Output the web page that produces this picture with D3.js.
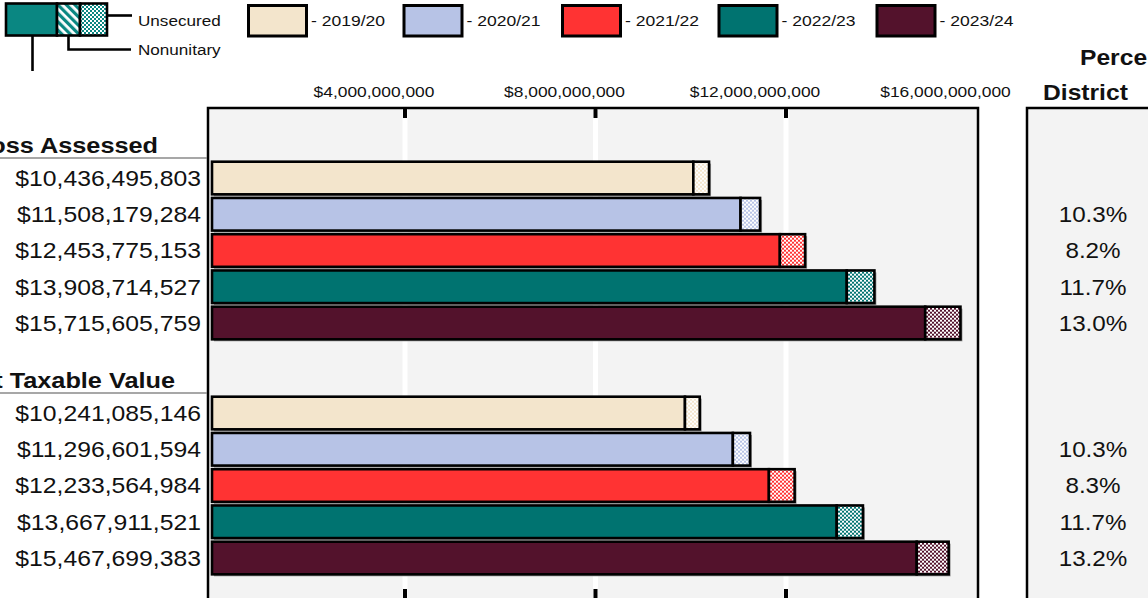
<!DOCTYPE html>
<html>
<head>
<meta charset="utf-8">
<script src="https://cdn.jsdelivr.net/npm/d3@7"></script>
<style>
  body { margin: 0; background: #fff; }
  svg { display: block; }
</style>
</head>
<body>
<svg id="chart" width="1148" height="598"></svg>
<script>
// Fiscal years and their fill colours
const years = ["2019/20", "2020/21", "2021/22", "2022/23", "2023/24"];
const colors = ["#f3e5cc", "#b7c3e6", "#ff3333", "#007370", "#53122c"];

// Gross assessed value (total) and the unsecured portion
const grossTotal = [10436495803, 11508179284, 12453775153, 13908714527, 15715605759];
const grossUnsecured = [330000000, 410000000, 530000000, 580000000, 740000000];

// Net taxable value (total) and the unsecured portion
const netTotal = [10241085146, 11296601594, 12233564984, 13667911521, 15467699383];
const netUnsecured = [310000000, 360000000, 540000000, 550000000, 670000000];

// Year-over-year percent change for the district
const grossChange = ["", "10.3%", "8.2%", "11.7%", "13.0%"];
const netChange = ["", "10.3%", "8.3%", "11.7%", "13.2%"];

// Axis ticks
const tickValues = [4000000000, 8000000000, 12000000000, 16000000000];
const gridValues = [4000000000, 8000000000, 12000000000];

const groups = [
  { title: "Gross Assessed", total: grossTotal, unsecured: grossUnsecured, change: grossChange,
    top: 161.7, titleX: 158, titleY: 153, ruleY: 158 },
  { title: "Net Taxable Value", total: netTotal, unsecured: netUnsecured, change: netChange,
    top: 396.7, titleX: 175, titleY: 388, ruleY: 393 }
];

const FONT = "'Liberation Sans', Arial, Helvetica, sans-serif";
const svg = d3.select("#chart");

const x = d3.scaleLinear().domain([0, 16000000000]).range([212, 974]);
const y = d3.scaleBand().domain(years).range([0, 36.25 * 4.9]).paddingInner(0.1);

const plotTop = 108, plotLeft = 208, plotRight = x.range()[1] + 4, plotBottom = 640;

// Text helper: horizontally stretched glyphs, as in the printed report
function label(sel, tx, ty, text, opt) {
  return sel.append("text")
    .attr("transform", `translate(${tx},${ty}) scale(${opt.sx || 1},1)`)
    .attr("text-anchor", opt.anchor || "start")
    .attr("font-family", FONT)
    .attr("font-size", opt.size)
    .attr("font-weight", opt.weight || "normal")
    .attr("fill", opt.fill || "#111")
    .attr("dy", opt.dy || null)
    .text(text);
}

// Patterns: checkered (unsecured) per colour, diagonal hatch (nonunitary)
const defs = svg.append("defs");
colors.concat(["#0a8782"]).forEach((c, i) => {
  const p = defs.append("pattern").attr("id", "chk" + i)
    .attr("patternUnits", "userSpaceOnUse").attr("width", 4).attr("height", 4);
  p.append("rect").attr("width", 4).attr("height", 4).attr("fill", "#fff");
  p.append("rect").attr("width", 2).attr("height", 2).attr("fill", c);
  p.append("rect").attr("x", 2).attr("y", 2).attr("width", 2).attr("height", 2).attr("fill", c);
});
const hatch = defs.append("pattern").attr("id", "hatch")
  .attr("patternUnits", "userSpaceOnUse").attr("width", 6).attr("height", 6)
  .attr("patternTransform", "rotate(-45)");
hatch.append("rect").attr("width", 6).attr("height", 6).attr("fill", "#fff");
hatch.append("rect").attr("width", 3.2).attr("height", 6).attr("fill", "#0a8782");

// Plot area and district column
svg.append("rect").attr("x", plotLeft).attr("y", plotTop)
  .attr("width", plotRight - plotLeft).attr("height", plotBottom - plotTop)
  .attr("fill", "#f3f3f3").attr("stroke", "#000").attr("stroke-width", 2.5);
svg.append("rect").attr("x", 1027).attr("y", plotTop)
  .attr("width", 200).attr("height", plotBottom - plotTop)
  .attr("fill", "#f3f3f3").attr("stroke", "#000").attr("stroke-width", 2.5);

// Gridlines and tick marks
svg.append("g").selectAll("rect.grid").data(gridValues).join("rect")
  .attr("x", d => x(d) - 2.5 + 2.5).attr("y", plotTop + 1.5).attr("width", 5)
  .attr("height", plotBottom - plotTop).attr("fill", "#fff");
svg.append("g").selectAll("rect").data(gridValues).join("rect")
  .attr("x", d => x(d) - 2 + 2.5).attr("y", plotTop).attr("width", 4).attr("height", 10).attr("fill", "#000");
svg.append("g").selectAll("rect").data(gridValues).join("rect")
  .attr("x", d => x(d) - 2 + 2.5).attr("y", 589).attr("width", 4).attr("height", 12).attr("fill", "#000");

// Top axis labels
const axisG = svg.append("g").attr("transform", "translate(0,97)")
  .call(d3.axisTop(x).tickValues(tickValues).tickFormat(d3.format("$,.0f")).tickSize(0).tickPadding(0));
axisG.select(".domain").remove();
axisG.attr("font-family", FONT).attr("font-size", 14.5);
axisG.selectAll("text").attr("fill", "#111").attr("dy", null)
  .attr("transform", "translate(-29,0) scale(1.2,1)");

const fmtVal = d3.format("$,");

groups.forEach(gr => {
  const g = svg.append("g").attr("transform", `translate(0,${gr.top})`);
  const rows = years.map((yr, i) => ({
    yr, i, total: gr.total[i], uns: gr.unsecured[i], change: gr.change[i]
  }));

  // drop shadow
  g.selectAll("rect.shadow").data(rows).join("rect").attr("class", "shadow")
    .attr("x", x(0) + 2).attr("y", d => y(d.yr) + 2)
    .attr("width", d => x(d.total) - x(0)).attr("height", y.bandwidth())
    .attr("fill", "#9a9a9a");

  // secured (main) portion
  g.selectAll("rect.main").data(rows).join("rect").attr("class", "main")
    .attr("x", x(0)).attr("y", d => y(d.yr))
    .attr("width", d => x(d.total - d.uns) - x(0)).attr("height", y.bandwidth())
    .attr("fill", d => colors[d.i]).attr("stroke", "#000").attr("stroke-width", 2.6);

  // unsecured portion
  g.selectAll("rect.uns").data(rows).join("rect").attr("class", "uns")
    .attr("x", d => x(d.total - d.uns)).attr("y", d => y(d.yr))
    .attr("width", d => x(d.total) - x(d.total - d.uns)).attr("height", y.bandwidth())
    .attr("fill", d => `url(#chk${d.i})`).attr("stroke", "#000").attr("stroke-width", 2.6);

  // value labels
  rows.forEach(d => {
    const cy = y(d.yr) + y.bandwidth() / 2;
    label(g, 201, cy, fmtVal(d.total), { size: 22, anchor: "end", sx: 1.125, dy: "0.36em" });
    if (d.change) label(g, 1093, cy, d.change, { size: 22, anchor: "middle", sx: 1.1, dy: "0.36em" });
  });

  // group heading with rule
  label(svg, gr.titleX, gr.titleY, gr.title, { size: 22, weight: "bold", anchor: "end", sx: 1.15 });
  svg.append("line").attr("x1", 0).attr("x2", plotLeft - 1).attr("y1", gr.ruleY).attr("y2", gr.ruleY)
    .attr("stroke", "#8a8a8a").attr("stroke-width", 1.3);
});

// District column heading
label(svg, 1080, 65, "Percent Change", { size: 22, weight: "bold", sx: 1.12 });
label(svg, 1043, 100, "District", { size: 22, weight: "bold", sx: 1.12 });

// Legend: value components
const leg = svg.append("g");
leg.append("rect").attr("x", 6).attr("y", 3.5).attr("width", 51).attr("height", 32)
  .attr("fill", "#0a8782").attr("stroke", "#000").attr("stroke-width", 2.6);
leg.append("rect").attr("x", 57).attr("y", 3.5).attr("width", 23).attr("height", 32)
  .attr("fill", "url(#hatch)").attr("stroke", "#000").attr("stroke-width", 2.6);
leg.append("rect").attr("x", 80).attr("y", 3.5).attr("width", 27).attr("height", 32)
  .attr("fill", "url(#chk5)").attr("stroke", "#000").attr("stroke-width", 2.6);
leg.append("path").attr("d", "M107,15.5H132").attr("stroke", "#000").attr("stroke-width", 2.6).attr("fill", "none");
leg.append("path").attr("d", "M68.5,35V49.5H131").attr("stroke", "#000").attr("stroke-width", 2.6).attr("fill", "none");
leg.append("path").attr("d", "M32.5,35V71").attr("stroke", "#000").attr("stroke-width", 2.6).attr("fill", "none");
label(leg, 138, 26, "Unsecured", { size: 15, sx: 1.14 });
label(leg, 138, 55, "Nonunitary", { size: 15, sx: 1.14 });

// Legend: fiscal years
const legX = [247, 402.5, 561, 717.5, 875.5];
years.forEach((yr, i) => {
  leg.append("rect").attr("x", legX[i] + 1.5).attr("y", 5.5).attr("width", 58).attr("height", 30.5)
    .attr("fill", colors[i]).attr("stroke", "#000").attr("stroke-width", 3);
  label(leg, legX[i] + 64, 26, "- " + yr, { size: 15, sx: 1.17 });
});
</script>
</body>
</html>
